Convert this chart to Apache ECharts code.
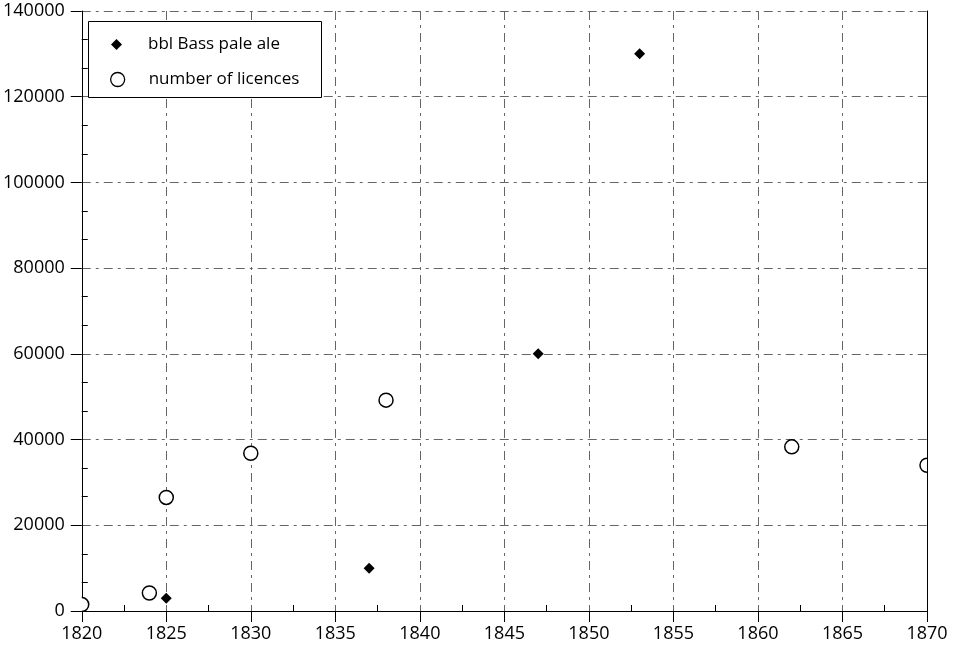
<!DOCTYPE html>
<html>
<head>
<meta charset="utf-8">
<script src="https://cdn.jsdelivr.net/npm/echarts@6/dist/echarts.min.js"></script>
<style>
  html, body { margin: 0; padding: 0; background: #fff; }
  #chart { width: 954px; height: 647px; }
</style>
</head>
<body>
<div id="chart"></div>
<script>
// Bass pale ale output (barrels) by year
const aleYears = [1825, 1837, 1847, 1853];
const aleBarrels = [3000, 10000, 60000, 130000];

// Number of brewing licences by year
const licenceYears = [1820, 1824, 1825, 1830, 1838, 1862, 1870];
const licenceCounts = [1500, 4200, 26500, 36800, 49200, 38300, 34000];

const seriesNames = ['bbl Bass pale ale', 'number of licences'];

const FONT = 'Open Sans';
const FS = 18;
const LEGEND_FS = 17;
const gridLine = { show: true, lineStyle: { color: '#666', width: 1, type: [9, 5, 3, 5] } };
const plain = v => String(v);

const chart = echarts.init(document.getElementById('chart'), null, { renderer: 'canvas' });

chart.setOption({
  animation: false,
  backgroundColor: '#fff',
  textStyle: { fontFamily: FONT },
  grid: { left: 80, right: 27, top: 11, bottom: 36, containLabel: false },
  xAxis: [
    {
      type: 'value', min: 1820, max: 1870, interval: 5, position: 'bottom',
      axisLine: { show: true, onZero: false, lineStyle: { color: '#000', width: 1 } },
      axisTick: { show: true, inside: false, length: 11, lineStyle: { color: '#000' } },
      axisLabel: { show: true, margin: 14, color: '#000', fontFamily: FONT, fontSize: FS, formatter: plain },
      splitLine: gridLine
    },
    {
      // inner half-step ticks along the bottom edge
      type: 'value', min: 1820, max: 1870, interval: 5, position: 'bottom',
      axisLine: { show: false },
      axisTick: { show: false, inside: true },
      axisLabel: { show: false },
      splitLine: { show: false },
      minorTick: { show: true, splitNumber: 2, length: 6, lineStyle: { color: '#000', width: 1 } }
    }
  ],
  yAxis: [
    {
      type: 'value', min: 0, max: 140000, interval: 20000, position: 'left',
      axisLine: { show: true, onZero: false, lineStyle: { color: '#000', width: 1 } },
      axisTick: { show: true, inside: false, length: 11, lineStyle: { color: '#000' } },
      axisLabel: { show: true, margin: 17, color: '#000', fontFamily: FONT, fontSize: FS, formatter: plain },
      splitLine: gridLine
    },
    {
      // inner minor ticks along the left edge
      type: 'value', min: 0, max: 140000, interval: 20000, position: 'left',
      axisLine: { show: false },
      axisTick: { show: false, inside: true },
      axisLabel: { show: false },
      splitLine: { show: false },
      minorTick: { show: true, splitNumber: 3, length: 6, lineStyle: { color: '#000', width: 1 } }
    },
    {
      // right frame edge
      type: 'value', min: 0, max: 140000, interval: 20000, position: 'right',
      axisLine: { show: true, onZero: false, lineStyle: { color: '#000', width: 1 } },
      axisTick: { show: false },
      axisLabel: { show: false },
      splitLine: { show: false }
    }
  ],
  graphic: [
    {
      type: 'rect', z: 3,
      shape: { x: 88.5, y: 21.5, width: 233, height: 76 },
      style: { fill: '#fff', stroke: '#000', lineWidth: 1 }
    }
  ],
  legend: [
    {
      data: [{ name: seriesNames[0], icon: 'diamond' }],
      left: 111, top: 36, padding: 0,
      itemWidth: 11, itemHeight: 11, z: 5,
      itemStyle: { color: '#000', opacity: 1 },
      textStyle: { fontFamily: FONT, fontSize: LEGEND_FS, color: '#000', padding: [0, 0, 0, 21] }
    },
    {
      data: [{ name: seriesNames[1], icon: 'circle' }],
      left: 110, top: 71, padding: 0,
      itemWidth: 14, itemHeight: 14, z: 5,
      itemStyle: { color: '#fff', borderColor: '#000', borderWidth: 1.3, opacity: 1 },
      textStyle: { fontFamily: FONT, fontSize: LEGEND_FS, color: '#000', padding: [0, 0, 0, 19] }
    }
  ],
  series: [
    {
      name: seriesNames[0], type: 'scatter', xAxisIndex: 0, yAxisIndex: 0,
      symbol: 'diamond', symbolSize: 11, clip: true,
      itemStyle: { color: '#000', opacity: 1 },
      data: aleYears.map((y, i) => [y, aleBarrels[i]])
    },
    {
      // open circles, cut off at the plot frame
      name: seriesNames[1], type: 'custom', xAxisIndex: 0, yAxisIndex: 0,
      itemStyle: { color: '#fff', borderColor: '#000', borderWidth: 1.5 },
      renderItem: function (params, api) {
        const p = api.coord([api.value(0), api.value(1)]);
        const cs = params.coordSys;
        return {
          type: 'circle',
          shape: { cx: p[0], cy: p[1], r: 7 },
          style: { fill: '#fff', stroke: '#000', lineWidth: 1.5 },
          clipPath: { type: 'rect', shape: { x: cs.x, y: cs.y, width: cs.width, height: cs.height } }
        };
      },
      encode: { x: 0, y: 1 },
      data: licenceYears.map((y, i) => [y, licenceCounts[i]])
    }
  ]
});
</script>
</body>
</html>
